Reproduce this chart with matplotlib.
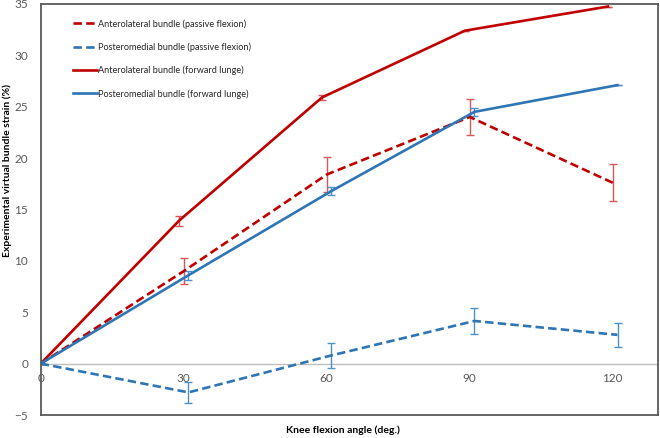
import numpy as np
import matplotlib.pyplot as plt
from matplotlib.lines import Line2D

# knee flexion angles (slightly offset per series, as in the original)
x_al_passive = [0, 30, 60, 90, 120]
x_pm_passive = [0, 31, 61, 91, 121]
x_al_lunge = [0, 29, 59, 89, 119]
x_pm_lunge = [0, 31, 61, 91, 121]

al_passive = [0, 9.0, 18.4, 24.0, 17.6]
al_passive_err = [0, 1.3, 1.7, 1.75, 1.8]
pm_passive = [0, -2.8, 0.8, 4.15, 2.8]
pm_passive_err = [0, 1.05, 1.25, 1.3, 1.2]
al_lunge = [0, 13.9, 25.9, 32.4, 34.75]
al_lunge_err = [0, 0.5, 0.25, 0, 0]
pm_lunge = [0, 8.6, 16.8, 24.5, 27.1]
pm_lunge_err = [0, 0.45, 0.35, 0.4, 0]

labels = ["Anterolateral bundle (passive flexion)",
          "Posteromedial bundle (passive flexion)",
          "Anterolateral bundle (forward lunge)",
          "Posteromedial bundle (forward lunge)"]

red = "#C00000"
blue = "#2E75B6"
red_err = "#D9575A"
blue_err = "#4A92CC"

plt.rcParams['font.family'] = ['Lato', 'DejaVu Sans']

fig = plt.figure(figsize=(6.6, 4.38), dpi=100)
ax = fig.add_axes([0.0617, 0.0525, 0.9353, 0.9385])

dash = (0, (3.2, 1.6))
lw = 1.9
ekw = dict(elinewidth=1.0, capsize=3, capthick=1.0)

ax.errorbar(x_al_passive, al_passive, yerr=al_passive_err, color=red, ecolor=red_err,
            lw=lw, ls=dash, **ekw)
ax.errorbar(x_pm_passive, pm_passive, yerr=pm_passive_err, color=blue, ecolor=blue_err,
            lw=lw, ls=dash, **ekw)
ax.errorbar(x_al_lunge, al_lunge, yerr=al_lunge_err, color=red, ecolor=red_err,
            lw=lw, **ekw)
ax.errorbar(x_pm_lunge, pm_lunge, yerr=pm_lunge_err, color=blue, ecolor=blue_err,
            lw=lw, **ekw)

ax.axhline(0, color="#BFBFBF", lw=1.0, zorder=0)

ax.set_xlim(0, 129.5)
ax.set_ylim(-5, 35)
ax.set_yticks(np.arange(-5, 36, 5))
ax.set_xticks([])
ax.tick_params(axis="y", length=0, labelsize=8.5, colors="#595959", pad=9)

sec = ax.secondary_xaxis(0.125)
sec.set_xticks([0, 30, 60, 90, 120])
sec.tick_params(length=0, labelsize=8.5, colors="#595959", pad=7)
sec.spines["bottom"].set_visible(False)

for s in ax.spines.values():
    s.set_color("#595959")
    s.set_linewidth(1.3)

ax.set_xlabel("Knee flexion angle (deg.)", fontsize=7.5, fontweight="bold")
ax.xaxis.set_label_coords(0.49, -0.026)
ax.set_ylabel("Experimental virtual bundle strain (%)", fontsize=7.5, fontweight="bold")
ax.yaxis.set_label_coords(-0.046, 0.596)

handles = [Line2D([], [], color=red, lw=lw, ls=dash),
           Line2D([], [], color=blue, lw=lw, ls=dash),
           Line2D([], [], color=red, lw=lw),
           Line2D([], [], color=blue, lw=lw)]
leg = ax.legend(handles, labels, loc="upper left", bbox_to_anchor=(0.052, 0.963),
                frameon=False, fontsize=6.6, handlelength=2.6, handletextpad=0.2,
                labelspacing=1.5, borderpad=0, borderaxespad=0)
for t in leg.get_texts():
    t.set_color("#262626")

fig.savefig("out.png", dpi=100)
